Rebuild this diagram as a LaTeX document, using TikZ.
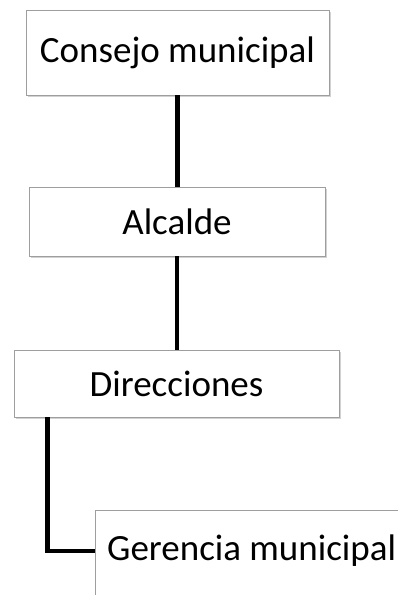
\documentclass[tikz,border=0pt]{standalone}
\usepackage{fontspec}
\setmainfont{Carlito}
\usetikzlibrary{shadows}
\tikzset{
  orgbox/.style={draw=black!38, line width=0.8pt, fill=white, inner sep=0pt,
    font=\fontsize{37}{40}\selectfont,
    drop shadow={opacity=0.35, shadow xshift=1.5pt, shadow yshift=-2pt}},
  link/.style={line width=4.5pt, black}
}
\begin{document}
\begin{tikzpicture}[x=1pt,y=1pt]
\useasboundingbox (0,0) rectangle (398,595);
\clip (0,0) rectangle (398,595);
\fill[white] (0,0) rectangle (398,595);
\node[orgbox, minimum width=303pt, minimum height=85pt] (b1) at (177.5,542.5) {Consejo municipal};
\node[orgbox, minimum width=296pt, minimum height=69pt] (b2) at (177,373.5) {Alcalde};
\node[orgbox, minimum width=325pt, minimum height=67pt] (b3) at (176.5,211.5) {Direcciones};
\node[orgbox, minimum width=330pt, minimum height=115pt] (b4) at (260,27.5) {};
\node[anchor=west, inner sep=0pt, font=\fontsize{37}{40}\selectfont] (t4) at (107,44) {Gerencia municipal};
\draw[link] (b1.south) -- (b1.south |- b2.north);
\draw[link] (b2.south) -- (b2.south |- b3.north);
\draw[link] ([xshift=34pt]b3.south west) |- (b4.west |- t4.west);
\end{tikzpicture}
\end{document}
